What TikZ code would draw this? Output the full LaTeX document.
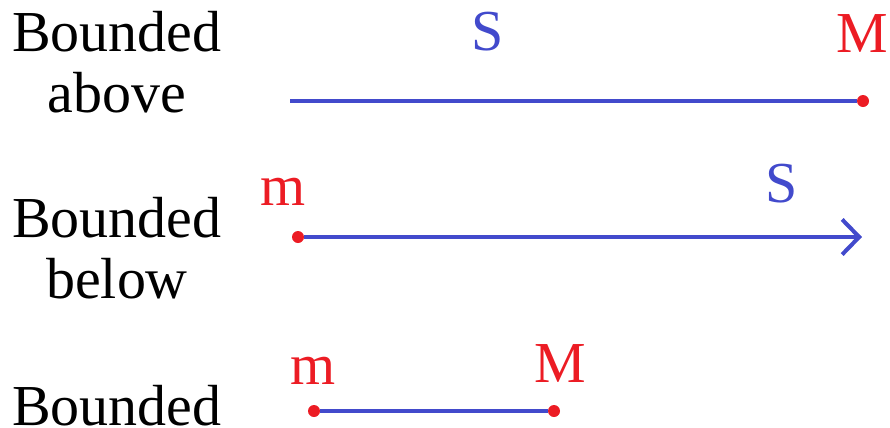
\documentclass[tikz,border=0pt]{standalone}
\usepackage{fontspec}
\setmainfont{Liberation Serif}
\usetikzlibrary{arrows.meta, positioning}
\definecolor{lineblue}{RGB}{66,74,204}
\definecolor{markred}{RGB}{236,28,36}

\begin{document}
\begin{tikzpicture}[
    x=0.02cm, y=-0.02cm,
    caption/.style={font=\fontsize{33}{34.5}\selectfont, align=center, anchor=base, inner sep=0pt},
    setname/.style={font=\fontsize{33}{34.5}\selectfont, text=lineblue, anchor=base, inner sep=0pt},
    bound/.style={font=\fontsize{33}{34.5}\selectfont, text=markred, anchor=base, inner sep=0pt},
    dot/.style={circle, fill=markred, inner sep=0pt, minimum size=0.24cm},
    seg/.style={lineblue, line width=2.3pt},
    ray/.style={seg, -{Straight Barb[length=0.34cm, width=0.7cm, line width=2.3pt]}}
]
\useasboundingbox (0,0) rectangle (890,427);

% --- Bounded above ---
\node[caption] (above) at (117, 112) {Bounded\\above};
\coordinate (a_start) at (290, 101);
\node[dot] (a_max) at (863, 101) {};
\node[setname] (a_set) at (488, 50) {S};
\node[bound] (a_mlabel) at (862, 52) {M};
\draw[seg] (a_start) -- (a_max);

% --- Bounded below ---
\node[caption] (below) at (117, 298) {Bounded\\below};
\node[dot] (b_min) at (298, 237) {};
\coordinate (b_end) at (862, 237);
\node[bound] (b_mlabel) at (283, 205) {m};
\node[setname] (b_set) at (782, 202) {S};
\draw[ray] (b_min) -- (b_end);

% --- Bounded ---
\node[caption] (both) at (117, 425) {Bounded};
\node[dot] (c_min) at (314, 411) {};
\node[dot] (c_max) at (554, 411) {};
\node[bound] (c_mlabel) at (313, 384) {m};
\node[bound] (c_Mlabel) at (560, 382) {M};
\draw[seg] (c_min) -- (c_max);

\end{tikzpicture}
\end{document}
